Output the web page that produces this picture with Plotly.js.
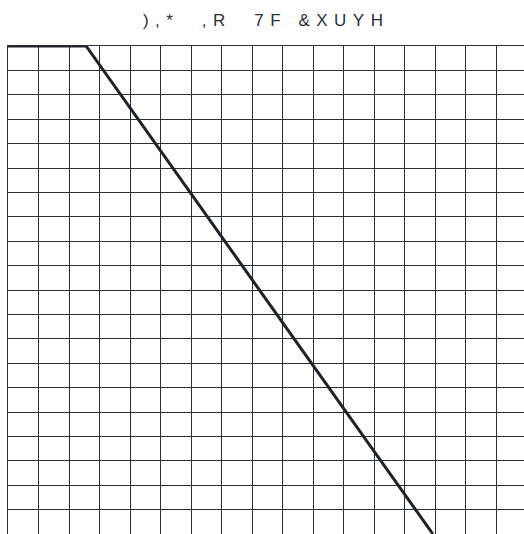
<!DOCTYPE html>
<html>
<head>
<meta charset="utf-8">
<script src="https://cdn.plot.ly/plotly-3.0.1.min.js"></script>
<style>
  html, body { margin: 0; padding: 0; background: #fff; }
  #PLOT { width: 524px; height: 534px; }
  .gtitle { letter-spacing: 6.5px; }
</style>
</head>
<body>
<div id="PLOT"></div>
<script>
// curve data, grid units
const curveX = [0, 2.56, 13.93];
const curveY = [20, 20, 0];
const chartTitle = '),*\u00a0\u00a0,R\u00a0\u00a07F\u00a0&XUYH';

const gridColor = '#2b2f36';

const trace = {
  x: curveX,
  y: curveY,
  type: 'scatter',
  mode: 'lines',
  line: { color: '#1f2329', width: 3 },
  hoverinfo: 'none'
};

const layout = {
  width: 524,
  height: 534,
  margin: { l: 8, r: 0, t: 46, b: 0 },
  paper_bgcolor: '#ffffff',
  plot_bgcolor: '#ffffff',
  showlegend: false,
  title: {
    text: chartTitle,
    font: { family: 'Liberation Sans, Arial, sans-serif', size: 17, color: '#2b2f36' },
    xref: 'container',
    x: 0.508,
    xanchor: 'center',
    yref: 'container',
    y: 0.962,
    yanchor: 'middle'
  },
  xaxis: {
    range: [0, 516 / 30.5],
    dtick: 1,
    tick0: 0,
    showgrid: true,
    gridcolor: gridColor,
    gridwidth: 1,
    zeroline: false,
    showticklabels: false,
    ticks: '',
    showline: true,
    side: 'top',
    linecolor: gridColor,
    linewidth: 1,
    fixedrange: true
  },
  yaxis: {
    range: [0, 20],
    dtick: 1,
    tick0: 0,
    showgrid: true,
    gridcolor: gridColor,
    gridwidth: 1,
    zeroline: false,
    showticklabels: false,
    ticks: '',
    showline: true,
    linecolor: gridColor,
    linewidth: 1,
    fixedrange: true
  }
};

Plotly.newPlot('PLOT', [trace], layout, { displayModeBar: false, staticPlot: true });
</script>
</body>
</html>
